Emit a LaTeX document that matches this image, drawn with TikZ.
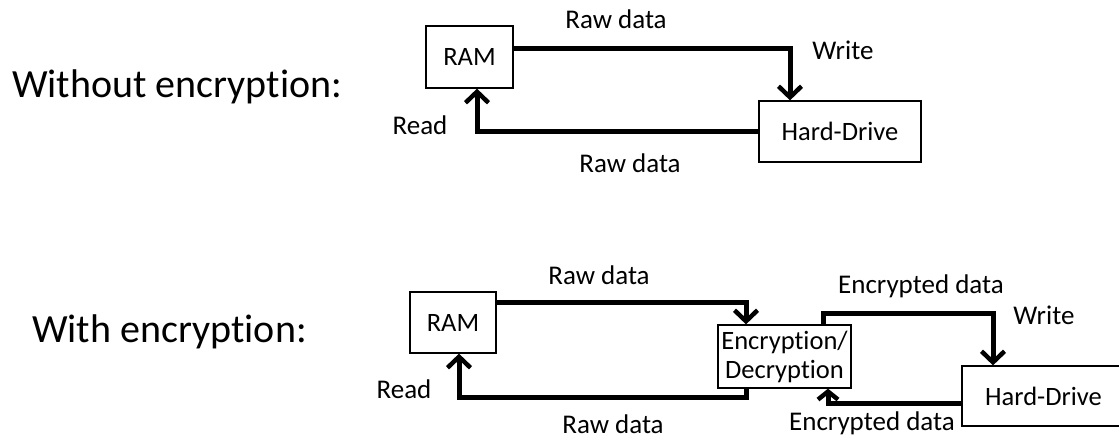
\documentclass[tikz,border=0pt]{standalone}
\usepackage{fontspec}
\setmainfont{Carlito}[RawFeature={-liga}]
\usetikzlibrary{arrows.meta}
\tikzset{
  box/.style={draw, line width=1.3pt, inner sep=0pt, align=center, font=\fontsize{26.5}{29}\selectfont},
  lbl/.style={anchor=base, inner sep=0pt, font=\fontsize{27}{29}\selectfont},
  big/.style={anchor=base west, inner sep=0pt, font=\fontsize{40}{46}\selectfont},
  conn/.style={line width=5pt, -{Straight Barb[length=11pt,width=23pt,line width=4.5pt]}}
}
\begin{document}
\begin{tikzpicture}[x=1pt,y=-1pt]
\useasboundingbox (0,0) rectangle (1119,440);
% titles
\node[big] (t1) at (12,97) {Without encryption:};
\node[big] (t2) at (32,342) {With encryption:};
% top section
\node[box, minimum width=87pt, minimum height=62pt] (ram1) at (469.5,57) {RAM};
\node[box, minimum width=162pt, minimum height=61pt] (hd1) at (840,131.5) {Hard-Drive};
\coordinate (c1) at (790,48);
\coordinate (c2) at (477,132);
\draw[conn] ([yshift=9pt]ram1.east) -| (hd1.north -| c1);
\draw[conn] (hd1.west) -| (ram1.south -| c2);
\node[lbl] (l1) at (616,28) {Raw data};
\node[lbl] (l2) at (843,59) {Write};
\node[lbl] (l3) at (420,134) {Read};
\node[lbl] (l4) at (630,172) {Raw data};
% bottom section
\node[box, minimum width=86pt, minimum height=61pt] (ram2) at (453,322.5) {RAM};
\node[box, minimum width=133pt, minimum height=63pt] (enc) at (784.5,356.5) {Encryption/\\Decryption};
\node[box, minimum width=163pt, minimum height=60pt] (hd2) at (1043.5,396) {Hard-Drive};
\coordinate (d1) at (746,302);
\coordinate (d2) at (459,397);
\coordinate (d3) at (823,313);
\coordinate (d4) at (993,313);
\coordinate (d5) at (828,403);
\draw[conn] ([yshift=20.5pt]ram2.east) -| (enc.north -| d1);
\draw[conn] (enc.south -| d1) |- (d2) -- (ram2.south -| d2);
\draw[conn] (enc.north -| d3) |- (d4) -- (hd2.north -| d4);
\draw[conn, -{Straight Barb[length=8pt,width=20pt,line width=4.5pt]}] ([yshift=-7pt]hd2.west) -| (enc.south -| d5);
\node[lbl] (m1) at (599,284) {Raw data};
\node[lbl] (m2) at (404,398) {Read};
\node[lbl] (m3) at (613,433) {Raw data};
\node[lbl] (m4) at (921,293) {Encrypted data};
\node[lbl] (m5) at (1044,324) {Write};
\node[lbl] (m6) at (872,430) {Encrypted data};
\end{tikzpicture}
\end{document}
